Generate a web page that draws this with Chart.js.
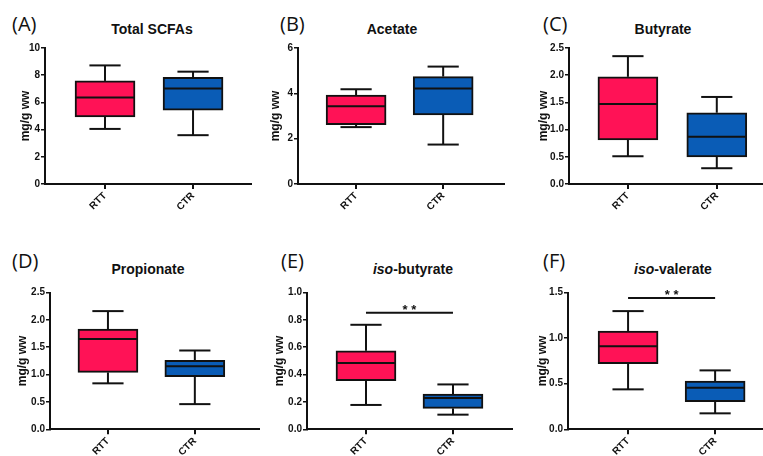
<!DOCTYPE html>
<html><head><meta charset="utf-8">
<script src="https://cdn.jsdelivr.net/npm/chart.js@4.4.1/dist/chart.umd.min.js"></script>
<style>
html,body{margin:0;padding:0;background:#fff;}
#wrap{position:relative;width:763px;height:456px;overflow:hidden;font-family:"Liberation Sans",Arial,sans-serif;}
canvas{position:absolute;}
.lab{position:absolute;font-family:"Open Sans",sans-serif;font-size:20px;line-height:24px;color:#111;white-space:nowrap;}
.ttl{position:absolute;width:200px;text-align:center;font-family:"Liberation Sans",Arial,sans-serif;font-weight:bold;font-size:14px;line-height:16px;color:#111;white-space:nowrap;}
</style></head><body><div id="wrap"></div>
<script>
// ---- data ----
const panelLabels = ['(A)', '(B)', '(C)', '(D)', '(E)', '(F)'];
const panelTitles = ['Total SCFAs', 'Acetate', 'Butyrate', 'Propionate', 'iso-butyrate', 'iso-valerate'];
const groups = ['RTT', 'CTR'];
const yAxisTitle = 'mg/g ww';
// each entry: [min, Q1, median, Q3, max]
const rttStats = [
  [4.05, 4.93, 6.36, 7.58, 8.72],
  [2.51, 2.62, 3.43, 3.92, 4.18],
  [0.51, 0.81, 1.47, 1.97, 2.35],
  [0.84, 1.04, 1.65, 1.83, 2.16],
  [0.178, 0.355, 0.484, 0.574, 0.764],
  [0.438, 0.719, 0.912, 1.077, 1.296]
];
const ctrStats = [
  [3.59, 5.43, 7.03, 7.84, 8.26],
  [1.74, 3.05, 4.21, 4.74, 5.18],
  [0.29, 0.50, 0.87, 1.31, 1.60],
  [0.46, 0.96, 1.15, 1.26, 1.44],
  [0.107, 0.153, 0.228, 0.258, 0.328],
  [0.175, 0.303, 0.456, 0.529, 0.646]
];
const yMax = [10, 6, 2.5, 2.5, 1.0, 1.5];
const yStep = [2, 2, 0.5, 0.5, 0.2, 0.5];
const yDecimals = [0, 0, 1, 1, 1, 1];
const sigLevel = [null, null, null, null, 0.852, 1.44];
const sigText = '* *';

// ---- layout / style (not data) ----
const groupColors = ['#FF1256', '#0A5CB6'];
const ink = '#111';
const layouts = [
  {cx:0,   cy:0,   w:252, h:228, pl:18, pt:48,   wy:27, hx:44,   xmin:0.318, xmax:2.67, lab:[12,12],  ttl:[152,29]},
  {cx:252, cy:0,   w:253, h:228, pl:16, pt:48,   wy:30, hx:44,   xmin:0.333, xmax:2.71, lab:[280,12], ttl:[392,29]},
  {cx:505, cy:0,   w:258, h:228, pl:31, pt:48,   wy:33, hx:44,   xmin:0.337, xmax:2.52, lab:[543,12], ttl:[663,29]},
  {cx:0,   cy:228, w:260, h:228, pl:15, pt:64.5, wy:35, hx:26.7, xmin:0.333, xmax:2.75, lab:[12,249], ttl:[148,269]},
  {cx:260, cy:228, w:253, h:228, pl:12, pt:64.5, wy:35, hx:26.7, xmin:0.322, xmax:2.69, lab:[281,249],ttl:[413,269]},
  {cx:513, cy:228, w:250, h:228, pl:22, pt:64.5, wy:33, hx:26.7, xmin:0.31,  xmax:2.55, lab:[543,249],ttl:[673,269]}
];

const wrap = document.getElementById('wrap');

function makeBoxPlugin(stats, sig) {
  return {
    id: 'boxWhisker',
    afterDatasetsDraw(chart) {
      const {ctx, scales: {x, y}} = chart;
      const meta = chart.getDatasetMeta(0);
      ctx.save();
      ctx.strokeStyle = ink;
      ctx.lineWidth = 2;
      ctx.lineCap = 'butt';
      const line = (x1, y1, x2, y2) => { ctx.beginPath(); ctx.moveTo(x1, y1); ctx.lineTo(x2, y2); ctx.stroke(); };
      stats.forEach((s, i) => {
        const [mn, q1, md, q3, mx] = s;
        const bar = meta.data[i];
        const c = x.getPixelForValue(i + 1);
        const half = bar.width / 2;
        const cap = half * 0.52;
        line(c, y.getPixelForValue(q3), c, y.getPixelForValue(mx));
        line(c - cap, y.getPixelForValue(mx), c + cap, y.getPixelForValue(mx));
        line(c, y.getPixelForValue(q1), c, y.getPixelForValue(mn));
        line(c - cap, y.getPixelForValue(mn), c + cap, y.getPixelForValue(mn));
        line(c - half + 1, y.getPixelForValue(md), c + half - 1, y.getPixelForValue(md));
      });
      if (sig !== null) {
        const yy = y.getPixelForValue(sig);
        const x1 = x.getPixelForValue(1), x2 = x.getPixelForValue(2);
        line(x1, yy, x2, yy);
        ctx.fillStyle = ink;
        ctx.font = 'bold 13px "Liberation Sans", Arial, sans-serif';
        ctx.textAlign = 'center';
        ctx.textBaseline = 'alphabetic';
        ctx.fillText(sigText, (x1 + x2) / 2, yy + 1);
      }
      ctx.restore();
    }
  };
}

panelTitles.forEach((title, i) => {
  const L = layouts[i];
  const lab = document.createElement('div');
  lab.className = 'lab';
  lab.style.left = L.lab[0] + 'px';
  lab.style.top = L.lab[1] + 'px';
  lab.textContent = panelLabels[i];
  wrap.appendChild(lab);
  const t = document.createElement('div');
  t.className = 'ttl';
  t.style.left = (L.ttl[0] - 100) + 'px';
  t.style.top = (L.ttl[1] - 8) + 'px';
  if (title.startsWith('iso-')) {
    const it = document.createElement('i');
    it.textContent = 'iso';
    t.appendChild(it);
    t.appendChild(document.createTextNode(title.slice(3)));
  } else {
    t.textContent = title;
  }
  wrap.appendChild(t);
  const cv = document.createElement('canvas');
  cv.width = L.w; cv.height = L.h;
  cv.style.left = L.cx + 'px'; cv.style.top = L.cy + 'px';
  cv.style.width = L.w + 'px'; cv.style.height = L.h + 'px';
  wrap.appendChild(cv);

  const stats = [rttStats[i], ctrStats[i]];
  new Chart(cv.getContext('2d'), {
    type: 'bar',
    data: {
      datasets: [{
        data: stats.map((s, k) => ({x: k + 1, y: [s[1], s[3]]})),
        backgroundColor: groupColors,
        borderColor: ink,
        borderWidth: 2,
        borderSkipped: false,
        barThickness: 60
      }]
    },
    options: {
      responsive: false,
      animation: false,
      devicePixelRatio: 1,
      layout: {padding: {left: L.pl, top: L.pt, right: 0, bottom: 0}},
      plugins: {legend: {display: false}, tooltip: {enabled: false}},
      scales: {
        x: {
          type: 'linear',
          offset: false,
          min: L.xmin, max: L.xmax,
          afterBuildTicks: sc => { sc.ticks = [{value: 1}, {value: 2}]; },
          afterCalculateLabelRotation: sc => { sc.labelRotation = 45; },
          afterFit: sc => { sc.height = L.hx; sc.paddingLeft = 0; sc.paddingRight = 0; },
          ticks: {
            autoSkip: false, minRotation: 45, maxRotation: 45, padding: 1,
            color: ink,
            font: {family: '"Liberation Sans", Arial, sans-serif', size: 10, weight: 'bold'},
            callback: v => groups[v - 1] || ''
          },
          grid: {display: true, offset: false, drawOnChartArea: false, drawTicks: true, tickLength: 5, color: ink, lineWidth: 2},
          border: {display: true, color: ink, width: 2}
        },
        y: {
          min: 0, max: yMax[i],
          afterFit: sc => { sc.width = L.wy; sc.paddingTop = 0; sc.paddingBottom = 0; },
          ticks: {
            stepSize: yStep[i], padding: 1, color: ink,
            font: {family: '"Liberation Sans", Arial, sans-serif', size: 10, weight: 'bold'},
            callback: v => Number(v).toFixed(yDecimals[i])
          },
          grid: {display: true, drawOnChartArea: false, drawTicks: true, tickLength: 4, color: ink, lineWidth: 1.5},
          border: {display: true, color: ink, width: 2},
          title: {
            display: true, text: yAxisTitle, color: ink, padding: 0,
            font: {family: '"Liberation Sans", Arial, sans-serif', size: 12, weight: 'bold'}
          }
        }
      }
    },
    plugins: [makeBoxPlugin(stats, sigLevel[i])]
  });
});
</script>
</body></html>
